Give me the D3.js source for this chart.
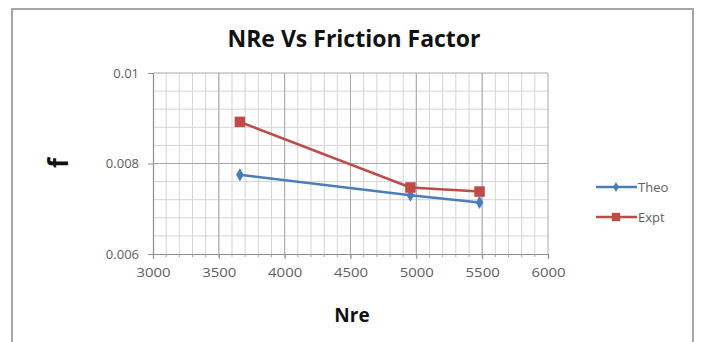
<!DOCTYPE html>
<html>
<head>
<meta charset="utf-8">
<script src="https://cdn.jsdelivr.net/npm/d3@7"></script>
<style>
  body { margin: 0; background: #fff; }
  svg { display: block; font-family: "Open Sans", sans-serif; }
</style>
</head>
<body>
<div id="chart"></div>
<script>
// NRe vs friction factor chart

const nre = [3660, 4955, 5480];
const theo = [0.00775, 0.00730, 0.00714];
const expt = [0.00892, 0.00747, 0.00738];
const seriesNames = ["Theo", "Expt"];
const xTicks = [3000, 3500, 4000, 4500, 5000, 5500, 6000];
const yTicks = [0.006, 0.008, 0.01];

const width = 701, height = 342;
const plot = { left: 153, right: 548, top: 73, bottom: 254 };

let svg = d3.select("#chart").append("svg")
  .attr("width", width)
  .attr("height", height);

//chart frame
svg.append("rect")
  .attr("x", 12).attr("y", 9)
  .attr("width", 681).attr("height", 345)
  .attr("fill", "#fff")
  .attr("stroke", "#a6a6a6")
  .attr("stroke-width", 2);

let x = d3.scaleLinear().domain([3000, 6000]).range([plot.left, plot.right]);
let y = d3.scaleLinear().domain([0.006, 0.01]).range([plot.bottom, plot.top]);

//minor grid
let g = svg.append("g");
g.selectAll(".vminor")
  .data(d3.range(3100, 6000, 100))
  .enter().append("line")
  .attr("x1", d => x(d)).attr("x2", d => x(d))
  .attr("y1", plot.top).attr("y2", plot.bottom)
  .attr("stroke", "#d4d4d4").attr("stroke-width", 1);
g.selectAll(".hminor")
  .data(d3.range(0.0064, 0.01, 0.0004))
  .enter().append("line")
  .attr("x1", plot.left).attr("x2", plot.right)
  .attr("y1", d => y(d)).attr("y2", d => y(d))
  .attr("stroke", "#d4d4d4").attr("stroke-width", 1);

//major grid
g.selectAll(".vmajor")
  .data(xTicks.slice(1))
  .enter().append("line")
  .attr("x1", d => x(d)).attr("x2", d => x(d))
  .attr("y1", plot.top).attr("y2", plot.bottom)
  .attr("stroke", "#a8a8a8").attr("stroke-width", 1);
g.selectAll(".hmajor")
  .data(yTicks.slice(1))
  .enter().append("line")
  .attr("x1", plot.left).attr("x2", plot.right)
  .attr("y1", d => y(d)).attr("y2", d => y(d))
  .attr("stroke", "#a8a8a8").attr("stroke-width", 1);

//axes
let xAxis = svg.append("g")
  .attr("transform", "translate(0," + plot.bottom + ")")
  .call(d3.axisBottom(x).tickValues(xTicks).tickSize(5).tickPadding(9).tickFormat(d3.format("d")));
let yAxis = svg.append("g")
  .attr("transform", "translate(" + plot.left + ",0)")
  .call(d3.axisLeft(y).tickValues(yTicks).tickSize(5).tickPadding(9).tickFormat(d3.format("")));

[xAxis, yAxis].forEach(a => {
  a.select(".domain").attr("stroke", "#8c8c8c").attr("stroke-width", 1.2);
  a.selectAll(".tick line").attr("stroke", "#8c8c8c");
  a.selectAll("text")
    .attr("fill", "#606060")
    .style("font-size", "13px")
    .style("font-family", "Open Sans, sans-serif");
});
xAxis.selectAll("text").attr("transform", "scale(1.15,1)");

//minor ticks under x axis
svg.append("g").selectAll("line")
  .data(d3.range(3100, 6000, 100))
  .enter().append("line")
  .attr("x1", d => x(d)).attr("x2", d => x(d))
  .attr("y1", plot.bottom).attr("y2", plot.bottom + 3)
  .attr("stroke", "#a0a0a0");

//title and axis labels
svg.append("text")
  .attr("x", 354).attr("y", 47)
  .attr("text-anchor", "middle")
  .style("font-size", "23px").style("font-weight", "bold")
  .attr("fill", "#111")
  .text("NRe Vs Friction Factor");

svg.append("text")
  .attr("x", 352).attr("y", 322)
  .attr("text-anchor", "middle")
  .style("font-size", "19px").style("font-weight", "bold")
  .attr("fill", "#111")
  .text("Nre");

svg.append("text")
  .attr("transform", "translate(68,163) rotate(-90)")
  .attr("text-anchor", "middle")
  .style("font-size", "26px").style("font-weight", "bold")
  .attr("fill", "#111")
  .text("f");

//series
let colors = ["#4a7ebb", "#be4b48"];
let data = [theo, expt].map((vals, k) => ({
  name: seriesNames[k],
  points: nre.map((n, i) => ({ x: n, y: vals[i] }))
}));

let line = d3.line().x(d => x(d.x)).y(d => y(d.y));

let diamond = d3.symbol().type(d3.symbolDiamond).size(50);
let square = d3.symbol().type(d3.symbolSquare).size(110);

data.forEach((s, k) => {
  svg.append("path")
    .attr("d", line(s.points))
    .attr("fill", "none")
    .attr("stroke", colors[k])
    .attr("stroke-width", 2.5);
  svg.selectAll(".m" + k)
    .data(s.points)
    .enter().append("path")
    .attr("transform", d => "translate(" + x(d.x) + "," + y(d.y) + ")")
    .attr("d", k == 0 ? diamond() : square())
    .attr("fill", colors[k]);
});

//legend
let legend = svg.append("g");
data.forEach((s, k) => {
  let ly = 187 + k * 30;
  legend.append("line")
    .attr("x1", 596).attr("x2", 637)
    .attr("y1", ly).attr("y2", ly)
    .attr("stroke", colors[k]).attr("stroke-width", 2.5);
  legend.append("path")
    .attr("transform", "translate(616," + ly + ")")
    .attr("d", k == 0 ? d3.symbol().type(d3.symbolDiamond).size(30)() : d3.symbol().type(d3.symbolSquare).size(70)())
    .attr("fill", colors[k]);
  legend.append("text")
    .attr("x", 638).attr("y", ly)
    .attr("dy", "0.35em")
    .style("font-size", "13px")
    .attr("fill", "#606060")
    .text(s.name);
});
</script>
</body>
</html>
